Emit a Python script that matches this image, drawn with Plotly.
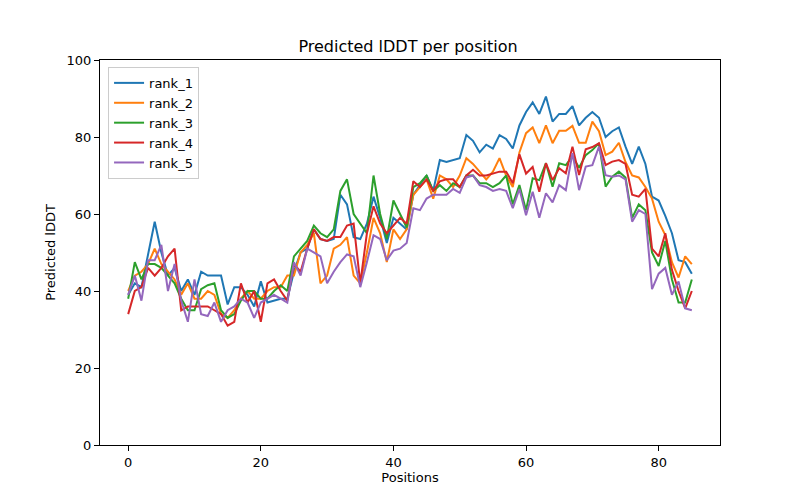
import plotly.graph_objects as go

positions = list(range(86))

rank_1 = [39, 42, 41, 50, 58, 50, 44, 46, 40, 43, 39, 45, 44, 44, 44, 36.5, 41, 41, 39, 36,
          42.5, 37, 37.5, 38, 38, 45, 50, 51, 56, 53.5, 53, 53.5, 65, 62.5, 54, 53.5, 57.5, 64.5, 59, 52.5,
          59, 57.5, 56, 65, 67.5, 70, 66, 74, 73.5, 74, 74.5, 80.5, 79, 76, 78, 77, 80.5, 79.5, 77, 83,
          86.5, 89, 86, 90.5, 84, 86, 86, 88, 83, 85, 86.5, 85, 80, 81.5, 82.5, 77.5, 73, 77.5, 73, 64.5,
          63.5, 59.5, 55, 48, 47.5, 44.5]
rank_2 = [40, 44, 45, 47, 51, 47, 45, 43, 39, 42, 38, 38, 40, 39, 34, 33, 35, 38, 40, 38,
          38, 40, 41, 41, 44, 44, 50, 52, 55, 42, 44, 51, 52, 54, 44, 42, 50, 59, 55, 47.5,
          56, 53.5, 56, 65, 67, 69, 64, 70, 69, 67, 70, 74.5, 73, 71, 69, 71, 74.5, 70, 67, 76,
          81, 82.5, 78.4, 83, 78.4, 81.6, 81.6, 82.9, 78.5, 78.5, 84, 81.5, 75.3, 76.2, 78.5, 73.5, 70, 69.5, 67, 64,
          58, 54.5, 47.5, 43.5, 49, 47]
rank_3 = [38, 47.5, 43, 47, 47, 46, 44, 42, 38, 35, 35, 40.5, 41.5, 42, 35, 33, 34, 37.5, 40, 40,
          38, 38, 40, 41.5, 40, 49, 51, 53, 57, 55, 54, 56, 66, 69, 60, 57.5, 55, 70, 60, 53.5,
          63.5, 60, 56.5, 67, 68, 70, 66, 67.5, 66, 68, 67, 70, 70, 68, 68, 67, 68, 70, 62.5, 67.5,
          61, 69.3, 68.8, 73.2, 67.1, 73.2, 72.7, 75, 72, 75.3, 76.6, 78.4, 67.1, 69.7, 71, 69.5, 59, 62.5, 61, 50,
          46.5, 53, 43, 37, 37, 43]
rank_4 = [34, 40, 41, 46, 44, 46, 49, 51, 35, 36, 36, 36, 36, 35, 34, 31, 32, 42, 37, 40,
          32, 42, 43, 40, 37.5, 47, 45, 51, 56, 53.5, 53, 54, 54, 57, 57.5, 42, 55, 62, 57.5, 55,
          57, 59, 57.5, 68.5, 67, 69, 66, 68.5, 69, 69, 67, 70, 71.5, 70, 70, 70.5, 71, 71, 68, 75.5,
          70.5, 72.2, 65.8, 73.2, 68.8, 71.9, 70.6, 77.5, 70.1, 76.8, 77.4, 78.4, 72.7, 73.6, 74, 73, 65, 64.5, 66.5, 51,
          49, 55, 45.5, 40, 35.5, 40]
rank_5 = [39, 44, 37.5, 48, 48, 52, 40, 47, 37.5, 32, 43, 34, 33.5, 37, 32, 35, 36, 38, 37, 33,
          37, 38, 39, 38, 37, 47.5, 44, 51, 50, 49, 42, 45, 47.5, 49.5, 49, 41, 47.5, 54.5, 53.5, 48,
          50.5, 51, 52.5, 61.5, 61, 64, 65, 65, 65, 66.5, 65.5, 69.5, 70, 67.5, 67, 66, 66.5, 66, 61.5, 66.5,
          59.7, 65.8, 59, 65.4, 63, 67.5, 66.2, 75.8, 66.2, 72.3, 72.7, 77.5, 70.1, 69.7, 70, 69, 58, 61, 60, 40.5,
          44.5, 46, 39, 42.5, 35.5, 35]

series = [("rank_1", rank_1, "#1f77b4"), ("rank_2", rank_2, "#ff7f0e"),
          ("rank_3", rank_3, "#2ca02c"), ("rank_4", rank_4, "#d62728"),
          ("rank_5", rank_5, "#9467bd")]

fig = go.Figure()
for name, vals, col in series:
    fig.add_trace(go.Scatter(x=positions, y=vals, mode="lines", name=name,
                             line=dict(color=col, width=2)))

axis_common = dict(showline=True, linecolor="black", linewidth=1, mirror=True,
                   ticks="outside", ticklen=5, tickcolor="black", showgrid=False,
                   zeroline=False, tickfont=dict(size=13, color="black"))

fig.update_layout(
    width=800, height=500,
    margin=dict(l=92, r=88, t=52, b=63),
    paper_bgcolor="white", plot_bgcolor="white",
    font=dict(family="DejaVu Sans", color="black", size=13),
    title=dict(text="Predicted lDDT per position", x=0.5, xanchor="center",
               y=1 - 38 / 500, yanchor="middle", font=dict(size=16)),
    xaxis=dict(range=[-4.25, 89.25], tickvals=[0, 20, 40, 60, 80],
               title=dict(text="Positions", standoff=4, font=dict(size=13)), **axis_common),
    yaxis=dict(range=[0, 100], tickvals=[0, 20, 40, 60, 80, 100],
               title=dict(text="Predicted lDDT", standoff=8, font=dict(size=13)), **axis_common),
    legend=dict(x=0.013, y=0.982, xanchor="left", yanchor="top",
                bgcolor="rgba(255,255,255,0.8)", bordercolor="#cccccc", borderwidth=1,
                font=dict(size=13), tracegroupgap=0),
    showlegend=True,
)

fig.write_html("out.html")
